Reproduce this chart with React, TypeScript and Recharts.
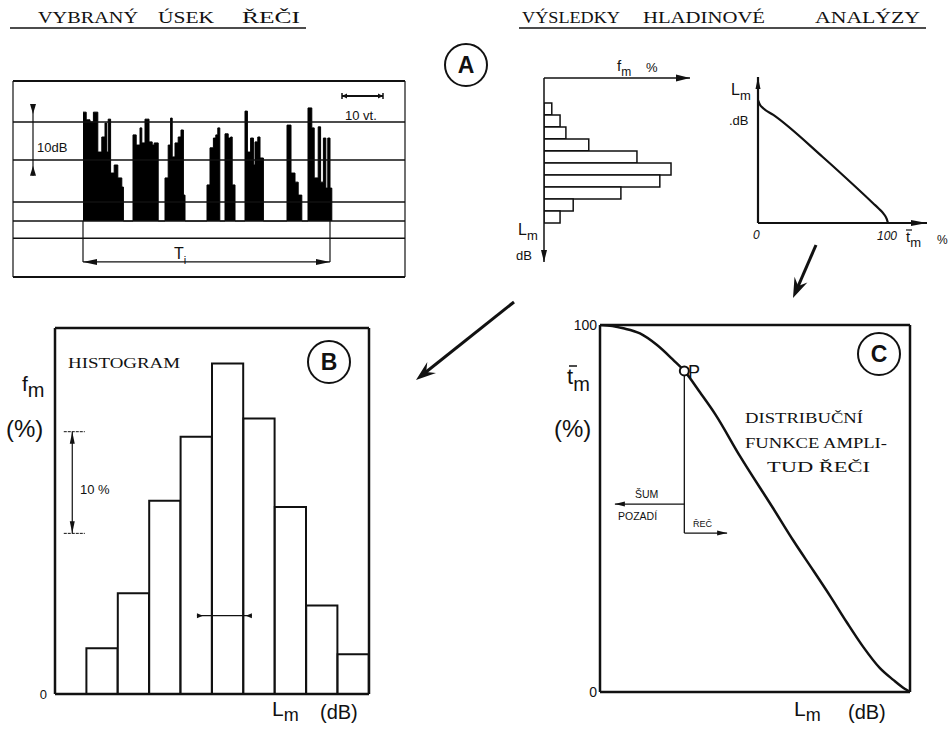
import React from 'react';
import {
  AreaChart, Area, BarChart, Bar, LineChart, Line, XAxis, YAxis,
  ReferenceLine, ReferenceDot,
} from 'recharts';

// ---------------- DATA ----------------
// A: selected speech segment (level record), time in s, level in dB above the floor
const waveTime = [
  0, 0.8, 1.75, 2.6, 3.7, 4.7, 5.5, 5.9, 6.3, 6.9, 7.8, 8.7, 9.7, 10.1,
  12.5, 13.3, 14.25, 14.7, 15.5, 16.5, 17.3, 17.8, 18.8,
  20.5, 21.3, 21.9, 22.3, 23, 23.8, 24.5, 25.1, 25.5,
  31, 31.75, 32.6, 33.2, 33.7, 34.2,
  35.5, 36.3, 36.9, 37.3, 38,
  40.5, 41.1, 41.9, 42.6, 43, 43.7, 44.25, 45.1,
  51, 52, 53, 53.8, 54.7,
  56.25, 57.2, 57.8, 58.8, 59.4, 60.1, 60.7, 61.2, 61.75, 62.2,
];
const waveLevel = [
  31.1, 28.9, 28.3, 31.1, 19.7, 24, 28, 19.7, 29.1, 13.7, 16, 12.3, 9.7, 0,
  24.6, 21.7, 26.6, 22.3, 29.1, 22.6, 21.7, 22.3, 0,
  12.3, 21.7, 29.4, 18.3, 22.3, 24, 26, 7.4, 0,
  10.3, 20.9, 23.7, 24.6, 26.6, 0,
  24.9, 23.7, 24, 10.3, 0,
  31.4, 19.7, 23.7, 16, 22.6, 24, 18, 0,
  27.4, 13.7, 11.1, 7.4, 0,
  32.3, 26.6, 12.3, 26.9, 11.1, 23.7, 9.4, 23.7, 9.4, 0,
];
const waveGridLevels = [28.3, 17.4, 5.4, 0, -4.9];
const waveSpan = [0, 61.75]; // T_i

// A (right): small level histogram, level class (top to bottom) vs f_m (%)
const smallHistClasses = [3, 4, 5, 6, 7, 8, 9, 10, 11, 12];
const smallHistValues = [1.6, 3.3, 4.5, 9.2, 19.1, 26.1, 23.8, 15.8, 6.0, 3.3];

// A (right): cumulative curve, t_m (%) vs L_m
const cumTime = [0, 1.5, 4, 11.8, 50, 88.7, 93, 96.4, 99, 100];
const cumLevel = [42.1, 40.5, 39.3, 37, 22.5, 6.7, 4.9, 3.3, 1.4, 0];

// B: histogram, level class vs f_m (%)
const histBClasses = [1, 2, 3, 4, 5, 6, 7, 8, 9];
const histBValues = [4.5, 9.9, 19.0, 25.3, 32.5, 27.1, 18.4, 8.7, 3.9];

// C: distribution function, L_m (relative) vs t_m (%)
const distLevels = [0, 4, 7.5, 12.9, 18.3, 23.6, 27.2, 32.3, 37.1, 45.2, 55.9, 62.4, 68.8, 74.2, 79.6, 84.9, 90.3, 94.6, 98.4, 100];
const distPercent = [100, 99.7, 99.1, 97.7, 94.6, 90.5, 87.5, 81.6, 75.8, 64.2, 50.0, 41.2, 33.1, 26.2, 19.0, 12.3, 6.5, 3.3, 0.8, 0];
const pointP = { lm: 27.2, t: 87.5 };

// ---------------- TABLES ----------------
const waveData = waveTime.map((t, i) => ({ t, L: waveLevel[i] }));
const smallHistData = smallHistClasses.map((c, i) => ({ lvl: c, f: smallHistValues[i] }));
const cumData = cumTime.map((t, i) => ({ t, L: cumLevel[i] }));
const histBData = histBClasses.map((c, i) => ({ x: c + 0.5, f: histBValues[i] }));
const distData = distLevels.map((lm, i) => ({ lm, t: distPercent[i] }));

const SANS = "'Liberation Sans', Arial, sans-serif";
const SERIF = "'Liberation Serif', 'Times New Roman', serif";
const INK = '#111';

function head(x: number, y: number, ux: number, uy: number, len: number, half: number) {
  const bx = x - ux * len, by = y - uy * len;
  return `${x},${y} ${bx - uy * half},${by + ux * half} ${bx + uy * half},${by - ux * half}`;
}

type ArrowOpts = { start?: boolean; end?: boolean; inward?: boolean; len?: number; half?: number; w?: number; caps?: number };
function arrowShape(o: ArrowOpts) {
  return (p: any) => {
    const x1 = +p.x1, y1 = +p.y1, x2 = +p.x2, y2 = +p.y2;
    const d = Math.hypot(x2 - x1, y2 - y1) || 1;
    const ux = (x2 - x1) / d, uy = (y2 - y1) / d;
    const len = o.len ?? 8, half = o.half ?? 3;
    const heads: React.ReactNode[] = [];
    if (o.end) {
      heads.push(o.inward
        ? <polygon key="e" points={head(x2 - ux * len, y2 - uy * len, -ux, -uy, len, half)} fill={INK} />
        : <polygon key="e" points={head(x2, y2, ux, uy, len, half)} fill={INK} />);
    }
    if (o.start) {
      heads.push(o.inward
        ? <polygon key="s" points={head(x1 + ux * len, y1 + uy * len, ux, uy, len, half)} fill={INK} />
        : <polygon key="s" points={head(x1, y1, -ux, -uy, len, half)} fill={INK} />);
    }
    const caps: React.ReactNode[] = [];
    if (o.caps) {
      caps.push(<line key="c1" x1={x1 - uy * o.caps} y1={y1 + ux * o.caps} x2={x1 + uy * o.caps} y2={y1 - ux * o.caps} stroke={INK} strokeWidth={1.5} />);
      caps.push(<line key="c2" x1={x2 - uy * o.caps} y1={y2 + ux * o.caps} x2={x2 + uy * o.caps} y2={y2 - ux * o.caps} stroke={INK} strokeWidth={1.5} />);
    }
    return (
      <g>
        <line x1={x1} y1={y1} x2={x2} y2={y2} stroke={INK} strokeWidth={o.w ?? 1.5} />
        {heads}
        {caps}
      </g>
    );
  };
}

const abs = (left: number, top: number): React.CSSProperties => ({ position: 'absolute', left, top });

function Sub({ x, y, main, sub, size, subSize, dy, family = SANS, style }: { x: number; y: number; main: string; sub: string; size: number; subSize: number; dy?: number; family?: string; style?: string }) {
  return (
    <text x={x} y={y} fontFamily={family} fontSize={size} fill={INK} fontStyle={style}>
      {main}
      <tspan fontSize={subSize} dy={dy ?? size * 0.3}>{sub}</tspan>
    </text>
  );
}

function BigArrow({ x1, y1, x2, y2 }: { x1: number; y1: number; x2: number; y2: number }) {
  const d = Math.hypot(x2 - x1, y2 - y1);
  const ux = (x2 - x1) / d, uy = (y2 - y1) / d;
  const len = 20, half = 7;
  return (
    <g>
      <line x1={x1} y1={y1} x2={x2 - ux * 10} y2={y2 - uy * 10} stroke={INK} strokeWidth={3} />
      <polygon points={`${x2},${y2} ${x2 - ux * len - uy * half},${y2 - uy * len + ux * half} ${x2 - ux * 13},${y2 - uy * 13} ${x2 - ux * len + uy * half},${y2 - uy * len - ux * half}`} fill={INK} />
    </g>
  );
}

function Circled({ cx, cy, letter }: { cx: number; cy: number; letter: string }) {
  return (
    <g>
      <circle cx={cx} cy={cy} r={21} fill="none" stroke={INK} strokeWidth={2} />
      <text x={cx} y={cy + 8} textAnchor="middle" fontFamily={SANS} fontSize={23} fontWeight="bold" fill={INK}>{letter}</text>
    </g>
  );
}

export default function App() {
  return (
    <div style={{ position: 'absolute', left: 0, top: 0, width: 951, height: 729, background: '#fff', overflow: 'hidden' }}>
      {/* A: speech segment */}
      <div style={abs(9, 77)}>
        <AreaChart width={400} height={204} data={waveData} margin={{ top: 4, right: 4, bottom: 4, left: 4 }}>
          <XAxis type="number" dataKey="t" domain={[-17.5, 80.5]} hide allowDataOverflow />
          <YAxis type="number" domain={[-16, 40]} hide allowDataOverflow />
          {waveGridLevels.map((v) => (
            <ReferenceLine key={v} y={v} stroke={INK} strokeWidth={1.5} />
          ))}
          <ReferenceLine y={40} stroke={INK} strokeWidth={2} />
          <ReferenceLine y={-16} stroke={INK} strokeWidth={2} />
          <ReferenceLine x={-17.5} stroke={INK} strokeWidth={1.2} />
          <ReferenceLine x={80.5} stroke={INK} strokeWidth={1.2} />
          <Area type="stepAfter" dataKey="L" baseValue={0} fill="#000" fillOpacity={1} stroke="#000" strokeWidth={1} isAnimationActive={false} />
          <ReferenceLine segment={[{ x: waveSpan[0], y: 0 }, { x: waveSpan[0], y: -11.7 }]} stroke={INK} strokeWidth={1.2} />
          <ReferenceLine segment={[{ x: waveSpan[1], y: 0 }, { x: waveSpan[1], y: -11.7 }]} stroke={INK} strokeWidth={1.2} />
          <ReferenceLine segment={[{ x: waveSpan[0], y: -11.7 }, { x: waveSpan[1], y: -11.7 }]} shape={arrowShape({ start: true, end: true, len: 14, half: 3, w: 1.2 })} />
          <ReferenceLine segment={[{ x: 64.75, y: 35.7 }, { x: 75, y: 35.7 }]} shape={arrowShape({ start: true, end: true, len: 5, half: 2.5, w: 2, caps: 3 })} />
          <ReferenceLine segment={[{ x: -12.5, y: 33.4 }, { x: -12.5, y: 12.9 }]} shape={arrowShape({ start: true, end: true, inward: true, len: 10, half: 3, w: 1.2 })} />
        </AreaChart>
      </div>

      {/* A: small level histogram (level axis grows downward) */}
      <div style={abs(534, 68)}>
        <BarChart width={166} height={204} data={smallHistData} layout="vertical" margin={{ top: 10, right: 10, bottom: 10, left: 10 }}>
          <XAxis type="number" domain={[0, 30]} hide allowDataOverflow />
          <YAxis type="number" dataKey="lvl" domain={[0.42, 15.75]} hide allowDataOverflow />
          <Bar dataKey="f" barSize={11.9} fill="#fff" stroke={INK} strokeWidth={1.5} isAnimationActive={false} />
          <ReferenceLine segment={[{ x: 0, y: 0.42 }, { x: 30, y: 0.42 }]} shape={arrowShape({ end: true, len: 14, half: 3.5, w: 1.5 })} />
          <ReferenceLine segment={[{ x: 0, y: 0.42 }, { x: 0, y: 15.75 }]} shape={arrowShape({ end: true, len: 12, half: 3, w: 1.5 })} />
        </BarChart>
      </div>

      {/* A: cumulative curve */}
      <div style={abs(748, 67)}>
        <LineChart width={189} height={166} data={cumData} margin={{ top: 10, right: 10, bottom: 10, left: 10 }}>
          <XAxis type="number" dataKey="t" domain={[0, 130]} hide allowDataOverflow />
          <YAxis type="number" domain={[0, 50]} hide allowDataOverflow />
          <ReferenceLine segment={[{ x: 0, y: 0 }, { x: 130, y: 0 }]} shape={arrowShape({ end: true, len: 16, half: 3, w: 1.8 })} />
          <ReferenceLine segment={[{ x: 0, y: 0 }, { x: 0, y: 50 }]} shape={arrowShape({ end: true, len: 12, half: 2.5, w: 2.2 })} />
          <Line type="monotone" dataKey="L" stroke={INK} strokeWidth={2.2} dot={false} isAnimationActive={false} />
        </LineChart>
      </div>

      {/* B: histogram */}
      <div style={abs(0, 300)}>
        <BarChart width={400} height={429} data={histBData} margin={{ top: 28, right: 31, bottom: 35, left: 40 }}>
          <XAxis type="number" dataKey="x" domain={[0, 10]} hide allowDataOverflow />
          <YAxis type="number" domain={[0, 36]} ticks={[0]} width={15} axisLine={false} tickLine={false} tickSize={0} tickMargin={8}
            tick={{ fontSize: 13, fill: INK, fontFamily: SANS }} allowDataOverflow />
          <Bar dataKey="f" barSize={31.2} fill="#fff" stroke={INK} strokeWidth={2} isAnimationActive={false} />
          <ReferenceLine x={0} stroke={INK} strokeWidth={2.5} />
          <ReferenceLine x={10} stroke={INK} strokeWidth={2.5} />
          <ReferenceLine y={0} stroke={INK} strokeWidth={2.5} />
          <ReferenceLine y={36} stroke={INK} strokeWidth={2.5} />
          <ReferenceLine segment={[{ x: 0.55, y: 15.8 }, { x: 0.55, y: 25.8 }]} shape={arrowShape({ start: true, end: true, len: 12, half: 2.5, w: 1.2 })} />
          <ReferenceLine segment={[{ x: 0.28, y: 15.8 }, { x: 0.95, y: 15.8 }]} stroke={INK} strokeWidth={1} strokeDasharray="3 1" />
          <ReferenceLine segment={[{ x: 0.28, y: 25.8 }, { x: 0.95, y: 25.8 }]} stroke={INK} strokeWidth={1} strokeDasharray="3 1" />
          <ReferenceLine segment={[{ x: 4.52, y: 7.7 }, { x: 6.27, y: 7.7 }]} shape={arrowShape({ start: true, end: true, inward: true, len: 6, half: 2.5, w: 1.2 })} />
        </BarChart>
      </div>

      {/* C: distribution function */}
      <div style={abs(540, 305)}>
        <LineChart width={411} height={424} data={distData} margin={{ top: 20, right: 41, bottom: 37, left: 40 }}>
          <XAxis type="number" dataKey="lm" domain={[0, 100]} hide allowDataOverflow />
          <YAxis type="number" domain={[0, 100]} ticks={[0, 100]} width={20} axisLine={false} tickLine={false} tickSize={0} tickMargin={3}
            tick={{ fontSize: 14, fill: INK, fontFamily: SANS }} allowDataOverflow />
          <ReferenceLine x={0} stroke={INK} strokeWidth={2.5} />
          <ReferenceLine x={100} stroke={INK} strokeWidth={2.5} />
          <ReferenceLine y={0} stroke={INK} strokeWidth={2.5} />
          <ReferenceLine y={100} stroke={INK} strokeWidth={2.5} />
          <Line type="monotone" dataKey="t" stroke={INK} strokeWidth={2.5} dot={false} isAnimationActive={false} />
          <ReferenceLine segment={[{ x: pointP.lm, y: 86.2 }, { x: pointP.lm, y: 43.3 }]} stroke={INK} strokeWidth={1.3} />
          <ReferenceLine segment={[{ x: pointP.lm, y: 51.2 }, { x: 4.8, y: 51.2 }]} shape={arrowShape({ end: true, len: 10, half: 2.5, w: 1.3 })} />
          <ReferenceLine segment={[{ x: pointP.lm, y: 43.3 }, { x: 41, y: 43.3 }]} shape={arrowShape({ end: true, len: 10, half: 2.5, w: 1.3 })} />
          <ReferenceDot x={pointP.lm} y={pointP.t} r={4.5} fill="#fff" stroke={INK} strokeWidth={2} />
        </LineChart>
      </div>

      {/* annotations */}
      <svg width={951} height={729} style={{ position: 'absolute', left: 0, top: 0, pointerEvents: 'none' }}>
        {/* titles */}
        <g fontFamily={SERIF} fontSize={17} fill={INK}>
          <text x={38} y={23} textLength={100} lengthAdjust="spacingAndGlyphs">VYBRANÝ</text>
          <text x={158} y={23} textLength={56} lengthAdjust="spacingAndGlyphs">ÚSEK</text>
          <text x={242} y={23} textLength={58} lengthAdjust="spacingAndGlyphs">ŘEČI</text>
          <text x={522} y={23} textLength={98} lengthAdjust="spacingAndGlyphs">VÝSLEDKY</text>
          <text x={643} y={23} textLength={122} lengthAdjust="spacingAndGlyphs">HLADINOVÉ</text>
          <text x={815} y={23} textLength={105} lengthAdjust="spacingAndGlyphs">ANALÝZY</text>
        </g>
        <line x1={10} y1={28} x2={306} y2={28} stroke={INK} strokeWidth={1.5} />
        <line x1={519} y1={28} x2={926} y2={28} stroke={INK} strokeWidth={1.5} />

        <Circled cx={466} cy={65} letter="A" />
        <Circled cx={329} cy={362} letter="B" />
        <Circled cx={879} cy={354} letter="C" />

        {/* speech segment labels */}
        <text x={37} y={152} fontFamily={SANS} fontSize={13} fill={INK}>10dB</text>
        <text x={345} y={120} fontFamily={SANS} fontSize={13} fill={INK}>10 vt.</text>
        <Sub x={174} y={259} main="T" sub="i" size={16} subSize={11} />

        {/* small histogram labels */}
        <Sub x={617} y={71} main="f" sub="m" size={15} subSize={12} />
        <text x={646} y={72} fontFamily={SANS} fontSize={13} fill={INK}>%</text>
        <Sub x={518} y={235} main="L" sub="m" size={16} subSize={13} />
        <text x={516} y={260} fontFamily={SANS} fontSize={13} fill={INK}>dB</text>

        {/* cumulative labels */}
        <Sub x={731} y={95} main="L" sub="m" size={16} subSize={13} />
        <text x={729} y={125} fontFamily={SANS} fontSize={13} fill={INK}>.dB</text>
        <text x={753} y={239} fontFamily={SANS} fontSize={12} fontStyle="italic" fill={INK}>0</text>
        <text x={877} y={240} fontFamily={SANS} fontSize={12} fontStyle="italic" fill={INK}>100</text>
        <Sub x={906} y={242} main="t" sub="m" size={15} subSize={13} />
        <line x1={906} y1={230} x2={912} y2={230} stroke={INK} strokeWidth={1.2} />
        <text x={937} y={244} fontFamily={SANS} fontSize={12} fill={INK}>%</text>

        {/* B labels */}
        <Sub x={22} y={391} main="f" sub="m" size={21} subSize={20} />
        <text x={6} y={437} fontFamily={SANS} fontSize={24} fill={INK}>(%)</text>
        <text x={68} y={368} fontFamily={SERIF} fontSize={14} fill={INK} textLength={112} lengthAdjust="spacingAndGlyphs">HISTOGRAM</text>
        <text x={80} y={494} fontFamily={SANS} fontSize={13} fill={INK}>10 %</text>
        <Sub x={272} y={716} main="L" sub="m" size={21} subSize={18} dy={5} />
        <text x={320} y={719} fontFamily={SANS} fontSize={20} fill={INK}>(dB)</text>

        {/* C labels */}
        <Sub x={567} y={384} main="t" sub="m" size={22} subSize={20} />
        <line x1={569} y1={366} x2={577} y2={366} stroke={INK} strokeWidth={1.5} />
        <text x={554} y={437} fontFamily={SANS} fontSize={24} fill={INK}>(%)</text>
        <text x={688} y={378} fontFamily={SANS} fontSize={18} fill={INK}>P</text>
        <g fontFamily={SERIF} fontSize={15} fill={INK}>
          <text x={745} y={423} textLength={118} lengthAdjust="spacingAndGlyphs">DISTRIBUČNÍ</text>
          <text x={745} y={448} textLength={142} lengthAdjust="spacingAndGlyphs">FUNKCE  AMPLI-</text>
          <text x={767} y={472} textLength={103} lengthAdjust="spacingAndGlyphs">TUD  ŘEČI</text>
        </g>
        <text x={635} y={498} fontFamily={SANS} fontSize={10.5} fill={INK}>ŠUM</text>
        <text x={618} y={520} fontFamily={SANS} fontSize={10.5} fill={INK}>POZADÍ</text>
        <text x={693} y={527} fontFamily={SANS} fontSize={9} fill={INK}>ŘEČ</text>
        <Sub x={794} y={716} main="L" sub="m" size={21} subSize={18} dy={5} />
        <text x={848} y={719} fontFamily={SANS} fontSize={20} fill={INK}>(dB)</text>

        {/* panel arrows */}
        <BigArrow x1={514} y1={302} x2={416} y2={380} />
        <BigArrow x1={816} y1={245} x2={793} y2={298} />
      </svg>
    </div>
  );
}
